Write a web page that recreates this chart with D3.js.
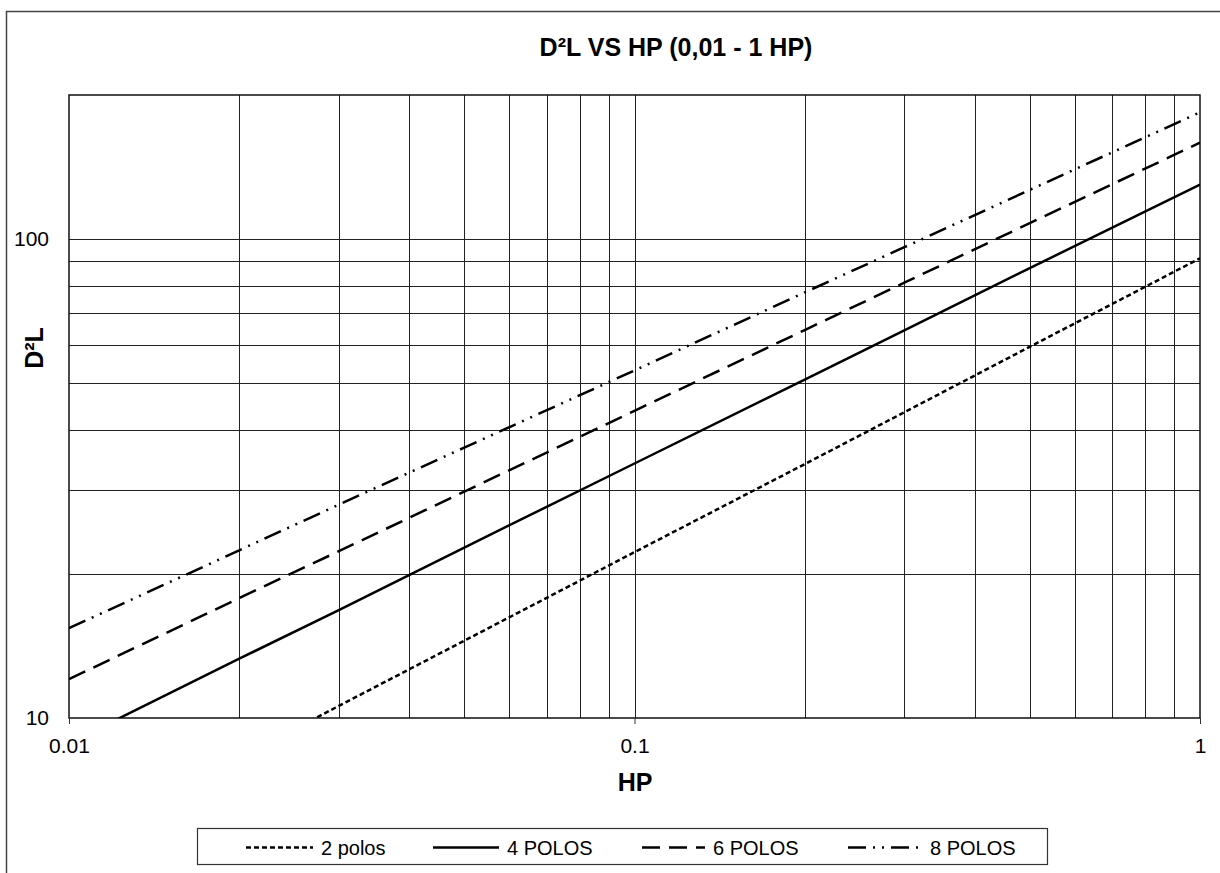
<!DOCTYPE html>
<html>
<head>
<meta charset="utf-8">
<script src="https://cdn.jsdelivr.net/npm/d3@7"></script>
<style>
  html, body { margin: 0; padding: 0; background: #fff; }
  svg { display: block; font-family: "Liberation Sans", Arial, sans-serif; }
</style>
</head>
<body>
<svg id="chart" width="1220" height="873"></svg>
<script>
// Horsepower sample points (HP) and D²L readings for each pole count
const hp = [0.01, 0.02, 0.03, 0.05, 0.1, 0.2, 0.3, 0.5, 1];
const polos2 = [5.38, 8.24, 10.6, 14.5, 22.2, 33.9, 43.5, 59.6, 91.2];
const polos4 = [8.86, 13.3, 16.8, 22.7, 34.0, 50.9, 64.5, 87.0, 130];
const polos6 = [12.05, 17.8, 22.3, 29.7, 43.8, 64.6, 81.1, 108, 159];
const polos8 = [15.4, 22.4, 27.9, 36.7, 53.2, 77.4, 96.2, 126.7, 184];

const seriesNames = ["2 polos", "4 POLOS", "6 POLOS", "8 POLOS"];
const seriesValues = [polos2, polos4, polos6, polos8];

const xTickValues = [0.01, 0.1, 1];
const xTickLabels = ["0.01", "0.1", "1"];
const yTickValues = [10, 100];
const yTickLabels = ["10", "100"];
const xGridValues = [0.02, 0.03, 0.04, 0.05, 0.06, 0.07, 0.08, 0.09, 0.1,
                     0.2, 0.3, 0.4, 0.5, 0.6, 0.7, 0.8, 0.9];
const yGridValues = [20, 30, 40, 50, 60, 70, 80, 90, 100];

const titleText = "D²L VS HP (0,01 - 1 HP)";
const xTitle = "HP";
const yTitle = "D²L";

const dashes = ["5,3", null, "18,9", "18,7,2,7,2,7"];

const svg = d3.select("#chart");
const plot = { left: 69, top: 95, right: 1200, bottom: 718 };

const x = d3.scaleLog().domain([0.01, 1]).range([plot.left, plot.right]);
const y = d3.scaleLog().domain([10, 200]).range([plot.bottom, plot.top]);

// outer chart frame
svg.append("rect")
  .attr("x", 6.5).attr("y", 11.5)
  .attr("width", 1300).attr("height", 1000)
  .attr("fill", "none").attr("stroke", "#444").attr("stroke-width", 1.5);

// gridlines
const grid = svg.append("g").attr("stroke", "#222").attr("stroke-width", 1)
  .attr("shape-rendering", "crispEdges");
grid.selectAll("line.v").data(xGridValues).join("line")
  .attr("x1", d => Math.round(x(d)) + 0.5).attr("x2", d => Math.round(x(d)) + 0.5)
  .attr("y1", plot.top).attr("y2", plot.bottom);
grid.selectAll("line.h").data(yGridValues).join("line")
  .attr("y1", d => Math.round(y(d)) + 0.5).attr("y2", d => Math.round(y(d)) + 0.5)
  .attr("x1", plot.left).attr("x2", plot.right);

// plot border
svg.append("rect")
  .attr("x", plot.left).attr("y", plot.top)
  .attr("width", plot.right - plot.left).attr("height", plot.bottom - plot.top)
  .attr("fill", "none").attr("stroke", "#111").attr("stroke-width", 1.5);

// axes
const xAxis = d3.axisBottom(x).tickValues(xTickValues)
  .tickFormat((d, i) => xTickLabels[i]).tickSize(6).tickPadding(14);
const gx = svg.append("g").attr("transform", `translate(0,${plot.bottom})`).call(xAxis);
gx.select(".domain").remove();
gx.selectAll(".tick line").attr("stroke", "#333");
gx.selectAll("text").attr("font-size", 21).attr("fill", "#000")
  .attr("font-family", "Liberation Sans, Arial, sans-serif");

const yAxis = d3.axisLeft(y).tickValues(yTickValues)
  .tickFormat((d, i) => yTickLabels[i]).tickSize(0).tickPadding(20);
const gy = svg.append("g").attr("transform", `translate(${plot.left},0)`).call(yAxis);
gy.select(".domain").remove();
gy.selectAll("text").attr("font-size", 21).attr("fill", "#000")
  .attr("font-family", "Liberation Sans, Arial, sans-serif");

// series lines, clipped to the plot area
svg.append("clipPath").attr("id", "plotClip").append("rect")
  .attr("x", plot.left).attr("y", plot.top)
  .attr("width", plot.right - plot.left).attr("height", plot.bottom - plot.top);

const line = d3.line().x(d => x(d[0])).y(d => y(d[1]));
const lines = svg.append("g").attr("clip-path", "url(#plotClip)");
seriesValues.forEach((vals, i) => {
  lines.append("path")
    .datum(hp.map((h, j) => [h, vals[j]]))
    .attr("d", line)
    .attr("fill", "none")
    .attr("stroke", "#000")
    .attr("stroke-width", 2.5)
    .attr("stroke-dasharray", dashes[i]);
});

// titles
svg.append("text").attr("x", 676).attr("y", 56)
  .attr("text-anchor", "middle").attr("font-size", 25).attr("font-weight", "bold")
  .text(titleText);
svg.append("text").attr("x", 635).attr("y", 791)
  .attr("text-anchor", "middle").attr("font-size", 25).attr("font-weight", "bold")
  .text(xTitle);
svg.append("text")
  .attr("transform", `translate(43,348) rotate(-90)`)
  .attr("text-anchor", "middle").attr("font-size", 25).attr("font-weight", "bold")
  .text(yTitle);

// legend
const legend = svg.append("g");
legend.append("rect")
  .attr("x", 197.5).attr("y", 828.5).attr("width", 850).attr("height", 36)
  .attr("fill", "#fff").attr("stroke", "#333").attr("stroke-width", 1.2);
const legendX = [246, 433, 642, 848];
const legendW = [67, 66, 63, 74];
seriesNames.forEach((name, i) => {
  legend.append("line")
    .attr("x1", legendX[i]).attr("x2", legendX[i] + legendW[i])
    .attr("y1", 847.5).attr("y2", 847.5)
    .attr("stroke", "#000").attr("stroke-width", 2.5)
    .attr("stroke-dasharray", dashes[i]);
  legend.append("text")
    .attr("x", legendX[i] + legendW[i] + 8).attr("y", 855)
    .attr("font-size", 20).attr("fill", "#000")
    .text(name);
});
</script>
</body>
</html>
